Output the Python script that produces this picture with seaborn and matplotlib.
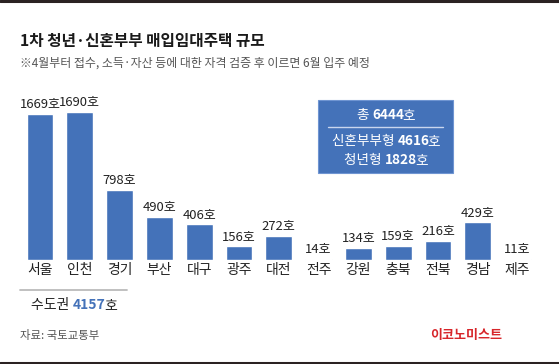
import numpy as np
import pandas as pd
import seaborn as sns
import matplotlib.pyplot as plt
from matplotlib.patches import Rectangle
from matplotlib.lines import Line2D

regions = ["서울", "인천", "경기", "부산", "대구", "광주", "대전", "전주", "강원", "충북", "전북", "경남", "제주"]
homes = [1669, 1690, 798, 490, 406, 156, 272, 14, 134, 159, 216, 429, 11]

total = 6444
newlywed = 4616
youth = 1828
capital = 4157

title = "1차 청년·신혼부부 매입임대주택 규모"
subtitle = "※4월부터 접수, 소득·자산 등에 대한 자격 검증 후 이르면 6월 입주 예정"
source = "자료: 국토교통부"
brand = "이코노미스트"

blue = "#4472B9"
W, H = 559, 364

sns.set_theme(style="white")
plt.rcParams['font.family'] = ['Noto Sans CJK KR', 'DejaVu Sans']

df = pd.DataFrame({"region": regions, "homes": homes})

fig = plt.figure(figsize=(W / 100, H / 100), dpi=100)
fig.patch.set_facecolor("white")

# axes placed so bar centres land ~40px apart, baseline at y=260px
px_per_bar = 39.8
x0 = -40 / px_per_bar
x1 = (W - 40) / px_per_bar
ax = fig.add_axes([0, (H - 260) / H, 1, 260 / H])
ax.patch.set_alpha(0)
sns.barplot(data=df, x="region", y="homes", color=blue, saturation=1, width=0.67, ax=ax)
ax.set_xlim(x0, x1)
ax.set_ylim(0, 1690 * 260 / 148)
for s in ax.spines.values():
    s.set_visible(False)
ax.set_yticks([])
ax.set_xlabel("")
ax.set_ylabel("")
ax.tick_params(axis="x", length=0, pad=2.5, labelsize=10, labelcolor="#222222")
ax.bar_label(ax.containers[0], labels=[f"{v}호" for v in homes], padding=2,
             fontsize=9.4, color="#222222")


def fx(px):
    return px / W


def fy(py):
    return 1 - py / H


# top and bottom rules
fig.add_artist(Line2D([0, 1], [fy(1.2), fy(1.2)], color="#2b2222", lw=2.2))
fig.add_artist(Line2D([0, 1], [fy(363), fy(363)], color="#2b2222", lw=2.2))

fig.text(fx(20), fy(41), title, fontsize=11.3, fontweight="bold", color="#1a1a1a", va="center")
fig.text(fx(20), fy(63), subtitle, fontsize=8.6, color="#555555", va="center")

renderer = fig.canvas.get_renderer()


def mixed(parts, cx, cy, size):
    # lay pieces side by side, then centre the whole run on (cx, cy)
    texts = []
    for t, c, w in parts:
        texts.append(fig.text(0, cy, t, fontsize=size, color=c, fontweight=w,
                              va="center", ha="left"))
    widths = []
    for tx, (t, c, w) in zip(texts, parts):
        wd = tx.get_window_extent(renderer).width
        if w == "bold":
            wd -= 1.5  # bold digits come out with a loose right edge
        widths.append(wd / fig.bbox.width)
    x = cx - sum(widths) / 2
    for tx, w in zip(texts, widths):
        tx.set_x(x)
        x += w


# summary box
fig.add_artist(Rectangle((fx(318), fy(173)), fx(453) - fx(318), fy(100) - fy(173),
                         transform=fig.transFigure, facecolor=blue,
                         edgecolor="#6f95d2", lw=0.8))
fig.add_artist(Line2D([fx(328), fx(443)], [fy(127), fy(127)], color="#c9d6ee", lw=1))
mixed([("총 ", "white", "normal"), (f"{total}", "white", "bold"), ("호", "white", "normal")],
      fx(386), fy(115), 9.8)
mixed([("신혼부부형 ", "white", "normal"), (f"{newlywed}", "white", "bold"), ("호", "white", "normal")],
      fx(386), fy(141), 9.8)
mixed([("청년형 ", "white", "normal"), (f"{youth}", "white", "bold"), ("호", "white", "normal")],
      fx(386), fy(160), 9.8)

# capital-area bracket
fig.add_artist(Line2D([fx(20), fx(127)], [fy(290), fy(290)], color="#bbbbbb", lw=1.3))
mixed([("수도권 ", "#222222", "normal"), (f"{capital}", blue, "bold"), ("호", "#222222", "normal")],
      fx(74), fy(305), 10)

fig.text(fx(20), fy(335), source, fontsize=8.2, color="#555555", va="center")
fig.text(fx(502), fy(335), brand, fontsize=9.4, fontweight="bold", color="#d7262b",
         va="center", ha="right")

fig.savefig("out.png", dpi=100)
